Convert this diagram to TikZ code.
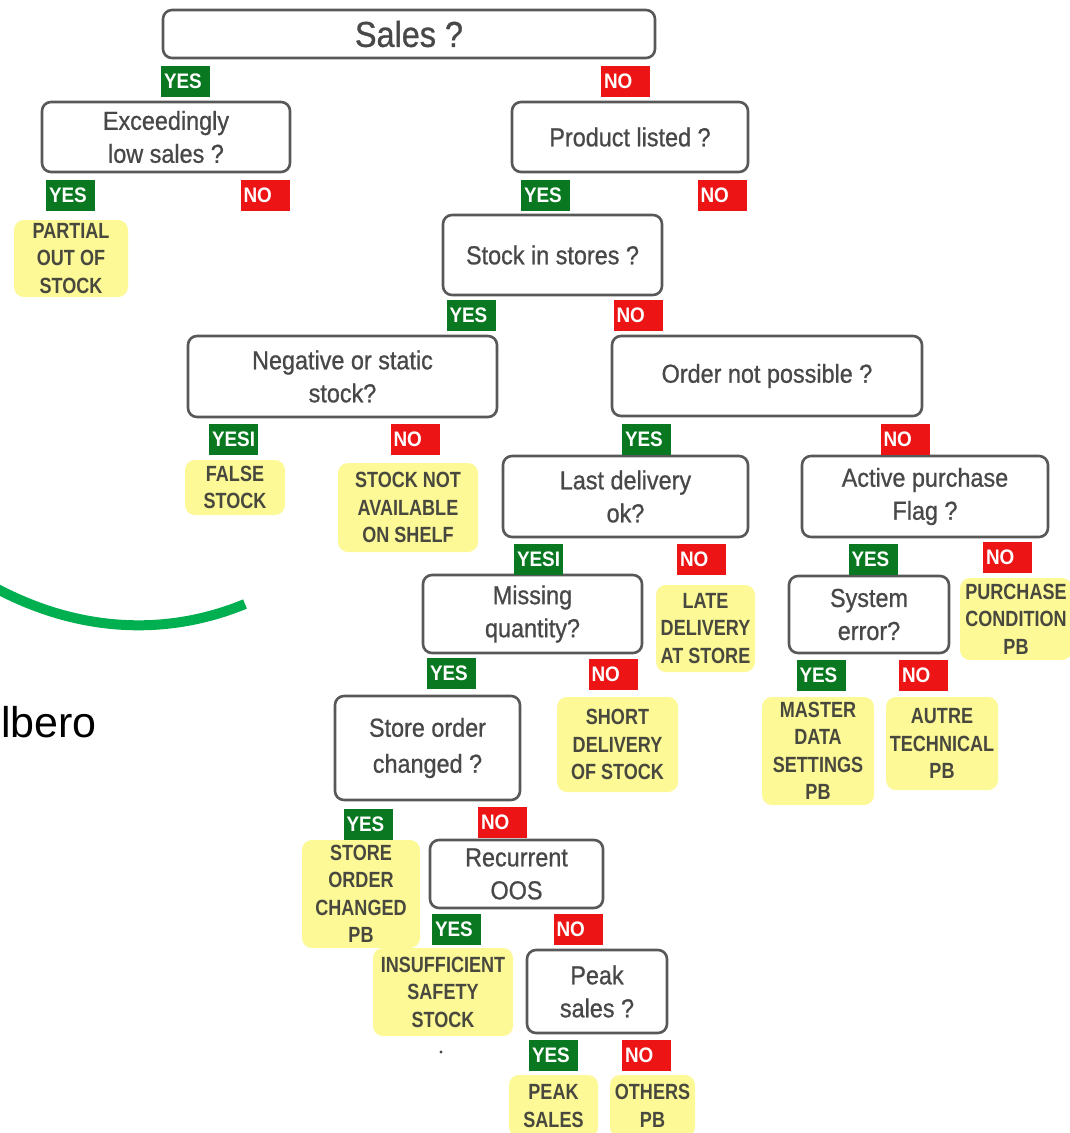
\documentclass[tikz,border=0pt]{standalone}
\usepackage{fontspec}
\setmainfont{Liberation Sans}
\newfontfamily\qfont[FakeStretch=0.9,FakeBold=0.8]{Liberation Sans}
\newfontfamily\tagfont[FakeStretch=0.9]{Liberation Sans Bold}
\newfontfamily\leaffont[FakeStretch=0.82]{Liberation Sans Bold}
\usepackage{tikz}
\usetikzlibrary{positioning}

\definecolor{qgray}{RGB}{88,88,88}
\definecolor{qtext}{RGB}{72,72,72}
\definecolor{yesgreen}{RGB}{10,120,32}
\definecolor{nored}{RGB}{236,20,20}
\definecolor{leafyellow}{RGB}{252,249,150}
\definecolor{leaftext}{RGB}{72,72,62}
\definecolor{arcgreen}{RGB}{0,176,80}

\tikzset{
    qbox/.style={draw=qgray, line width=2.6pt, rounded corners=9pt, fill=white,
        inner sep=0pt, align=center, text=qtext,
        font=\qfont\fontsize{26}{33}\selectfont},
    yestag/.style={fill=yesgreen, text=white, inner xsep=3pt, inner ysep=0pt,
        text width=43pt, align=left, minimum height=31pt,
        font=\tagfont\fontsize{21}{21}\selectfont},
    notag/.style={yestag, fill=nored},
    leaf/.style={fill=leafyellow, rounded corners=10pt, inner sep=0pt,
        align=center, text=leaftext,
        font=\leaffont\fontsize{22}{27.5}\selectfont},
}

\begin{document}
\begin{tikzpicture}[x=1pt,y=-1pt]
    \clip (0,0) rectangle (1070,1133);
    \fill[white] (0,0) rectangle (1070,1133);

    % left side: arc and cut-off title
    \draw[arcgreen, line width=10pt] (-10,585) .. controls (80,635) and (170,635) .. (245,604);
    \node[anchor=base west, inner sep=0pt, font=\fontsize{43}{43}\selectfont] (title) at (1,737) {lbero};

    % question boxes
    \node[qbox, minimum width=492pt, minimum height=48pt, font=\qfont\fontsize{36}{40}\selectfont] (sales) at (409,34) {Sales ?};
    \node[qbox, minimum width=248pt, minimum height=70pt] (exceed) at (166,137) {Exceedingly\\low sales ?};
    \node[qbox, minimum width=236pt, minimum height=70pt] (listed) at (630,137) {Product listed ?};
    \node[qbox, minimum width=219pt, minimum height=80pt] (stockin) at (552.5,255) {Stock in stores ?};
    \node[qbox, minimum width=309pt, minimum height=81pt] (negstat) at (342.5,376.5) {Negative or static\\stock?};
    \node[qbox, minimum width=310pt, minimum height=80pt] (ordernp) at (767,376) {Order not possible ?};
    \node[qbox, minimum width=245pt, minimum height=81pt] (lastdel) at (625.5,496.5) {Last delivery\\ok?};
    \node[qbox, minimum width=246pt, minimum height=81pt] (activep) at (925,496.5) {Active purchase\\Flag ?};
    \node[qbox, minimum width=219pt, minimum height=78pt] (missing) at (532.5,614) {Missing\\quantity?};
    \node[qbox, minimum width=160pt, minimum height=77pt] (syserr) at (869,614.5) {System\\error?};
    \node[qbox, minimum width=185pt, minimum height=104pt, font=\qfont\fontsize{26}{36}\selectfont] (storeord) at (427.5,748) {Store order\\changed ?};
    \node[qbox, minimum width=173pt, minimum height=68pt] (recurr) at (516.5,874) {Recurrent\\OOS};
    \node[qbox, minimum width=140pt, minimum height=83pt] (peak) at (597,991.5) {Peak\\sales ?};

    % yes / no tags
    \node[yestag] (salesyes) at (185.5,81.5) {YES};
    \node[notag] (salesno) at (625.5,81.5) {NO};
    \node[yestag] (exceedyes) at (70.5,195) {YES};
    \node[notag] (exceedno) at (265,195) {NO};
    \node[yestag] (listedyes) at (545.5,195) {YES};
    \node[notag] (listedno) at (722,195) {NO};
    \node[yestag] (stockinyes) at (471,315.5) {YES};
    \node[notag] (stockinno) at (638,315.5) {NO};
    \node[yestag] (negstatyes) at (233.5,439.5) {YESI};
    \node[notag] (negstatno) at (415,439.5) {NO};
    \node[yestag] (ordernpyes) at (646.5,439) {YES};
    \node[notag] (ordernpno) at (905,439) {NO};
    \node[yestag] (lastdelyes) at (538.5,559) {YESI};
    \node[notag] (lastdelno) at (701.5,559) {NO};
    \node[yestag] (activepyes) at (873,559) {YES};
    \node[notag] (activepno) at (1007.5,557) {NO};
    \node[yestag] (missingyes) at (451.5,673.5) {YES};
    \node[notag] (missingno) at (613,674.5) {NO};
    \node[yestag] (syserryes) at (821,675) {YES};
    \node[notag] (syserrno) at (923.5,675) {NO};
    \node[yestag] (storeordyes) at (368,824) {YES};
    \node[notag] (storeordno) at (502.5,822) {NO};
    \node[yestag] (recurryes) at (456.5,929.5) {YES};
    \node[notag] (recurrno) at (578,929.5) {NO};
    \node[yestag] (peakyes) at (553.5,1055.5) {YES};
    \node[notag] (peakno) at (646.5,1055.5) {NO};

    % outcomes
    \node[leaf, minimum width=114pt, minimum height=77pt] (partial) at (71,258.5) {PARTIAL\\OUT OF\\STOCK};
    \node[leaf, minimum width=100pt, minimum height=55pt] (falsestock) at (235,487.5) {FALSE\\STOCK};
    \node[leaf, minimum width=140pt, minimum height=89pt] (notavail) at (408,507.5) {STOCK NOT\\AVAILABLE\\ON SHELF};
    \node[leaf, minimum width=99pt, minimum height=87pt] (late) at (705.5,628.5) {LATE\\DELIVERY\\AT STORE};
    \node[leaf, minimum width=112pt, minimum height=82pt] (purchase) at (1016,619) {PURCHASE\\CONDITION\\PB};
    \node[leaf, minimum width=112pt, minimum height=108pt] (master) at (818,751) {MASTER\\DATA\\SETTINGS\\PB};
    \node[leaf, minimum width=112pt, minimum height=93pt] (autre) at (942,743.5) {AUTRE\\TECHNICAL\\PB};
    \node[leaf, minimum width=121pt, minimum height=95pt] (short) at (617.5,744.5) {SHORT\\DELIVERY\\OF STOCK};
    \node[leaf, minimum width=118pt, minimum height=108pt] (storech) at (361,894) {STORE\\ORDER\\CHANGED\\PB};
    \node[leaf, minimum width=140pt, minimum height=88pt] (insuff) at (443,992) {INSUFFICIENT\\SAFETY\\STOCK};
    \node[leaf, minimum width=89pt, minimum height=62pt] (peaksales) at (553.5,1106) {PEAK\\SALES};
    \node[leaf, minimum width=85pt, minimum height=62pt] (others) at (652.5,1106) {OTHERS\\PB};

    \fill[leaftext] (441,1052) circle (1.6pt);
\end{tikzpicture}
\end{document}
